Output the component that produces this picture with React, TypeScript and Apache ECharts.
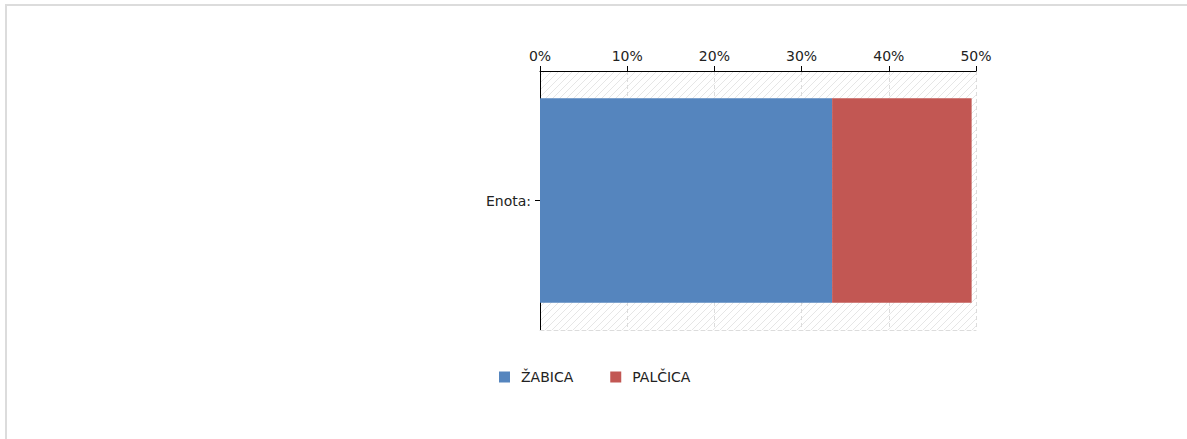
import React, { useEffect, useRef } from "react";
import * as echarts from "echarts";

const categories = ["Enota:"];
const seriesNames = ["ŽABICA", "PALČICA"];
const zabicaValues = [33.5];
const palcicaValues = [16.0];
const colors = ["#5585be", "#c25753"];
const axisMin = 0;
const axisMax = 50;
const axisInterval = 10;

function makeHatch(): HTMLCanvasElement {
  const s = 7;
  const c = document.createElement("canvas");
  c.width = s;
  c.height = s;
  const ctx = c.getContext("2d")!;
  ctx.fillStyle = "#ffffff";
  ctx.fillRect(0, 0, s, s);
  ctx.strokeStyle = "#e6e6e6";
  ctx.lineWidth = 1;
  ctx.beginPath();
  ctx.moveTo(-1, s + 1);
  ctx.lineTo(s + 1, -1);
  ctx.moveTo(-1, 1);
  ctx.lineTo(1, -1);
  ctx.moveTo(s - 1, s + 1);
  ctx.lineTo(s + 1, s - 1);
  ctx.stroke();
  return c;
}

export default function App() {
  const ref = useRef<HTMLDivElement>(null);
  useEffect(() => {
    if (!ref.current) return;
    const chart = echarts.init(ref.current, null, { renderer: "svg" });
    const hatch = makeHatch();
    const font = "DejaVu Sans, Verdana, sans-serif";
    chart.setOption({
      animation: false,
      textStyle: { fontFamily: font },
      grid: {
        left: 540,
        right: 211,
        top: 71,
        bottom: 109,
        show: true,
        borderWidth: 0,
        backgroundColor: { image: hatch, repeat: "repeat", imageWidth: 7, imageHeight: 7 } as any,
      },
      legend: {
        data: seriesNames,
        left: 494,
        top: 365,
        icon: "rect",
        itemWidth: 11,
        itemHeight: 11,
        itemGap: 37,
        textStyle: { fontFamily: font, fontSize: 14, color: "#222", padding: [0, 0, 0, 6] },
      },
      xAxis: [
        {
          type: "value",
          position: "top",
          min: axisMin,
          max: axisMax,
          interval: axisInterval,
          axisLine: { show: true, lineStyle: { color: "#000", width: 1 } },
          axisTick: { show: true, length: 5, lineStyle: { color: "#000" } },
          axisLabel: {
            formatter: "{value}%",
            color: "#222",
            fontSize: 14,
            fontFamily: font,
            margin: 8,
          },
          splitLine: { show: true, lineStyle: { color: "#dcdcdc", type: [4, 3] } },
        },
        {
          type: "value",
          position: "bottom",
          min: axisMin,
          max: axisMax,
          interval: axisInterval,
          axisLine: { show: true, lineStyle: { color: "#dcdcdc", type: [4, 3] } },
          axisTick: { show: false },
          axisLabel: { show: false },
          splitLine: { show: false },
        },
      ],
      yAxis: {
        type: "category",
        data: categories,
        axisLine: { show: true, lineStyle: { color: "#000" } },
        axisTick: { show: true, alignWithLabel: true, length: 5, lineStyle: { color: "#000" } },
        axisLabel: { color: "#222", fontSize: 14, fontFamily: font, margin: 9 },
      },
      series: [
        {
          name: seriesNames[0],
          type: "bar",
          stack: "total",
          data: zabicaValues,
          barWidth: "79%",
          itemStyle: { color: colors[0] },
        },
        {
          name: seriesNames[1],
          type: "bar",
          stack: "total",
          data: palcicaValues,
          barWidth: "79%",
          itemStyle: { color: colors[1] },
        },
      ],
    });
    return () => chart.dispose();
  }, []);
  return (
    <div
      style={{
        position: "fixed",
        left: 0,
        top: 0,
        width: 1187,
        height: 439,
        overflow: "hidden",
        background: "#fff",
      }}
    >
      <div
        style={{
          position: "absolute",
          left: 5,
          top: 4,
          width: 1400,
          height: 700,
          border: "2px solid #dcdcdc",
          boxSizing: "border-box",
        }}
      />
      <div ref={ref} style={{ position: "absolute", left: 0, top: 0, width: 1187, height: 439 }} />
    </div>
  );
}
